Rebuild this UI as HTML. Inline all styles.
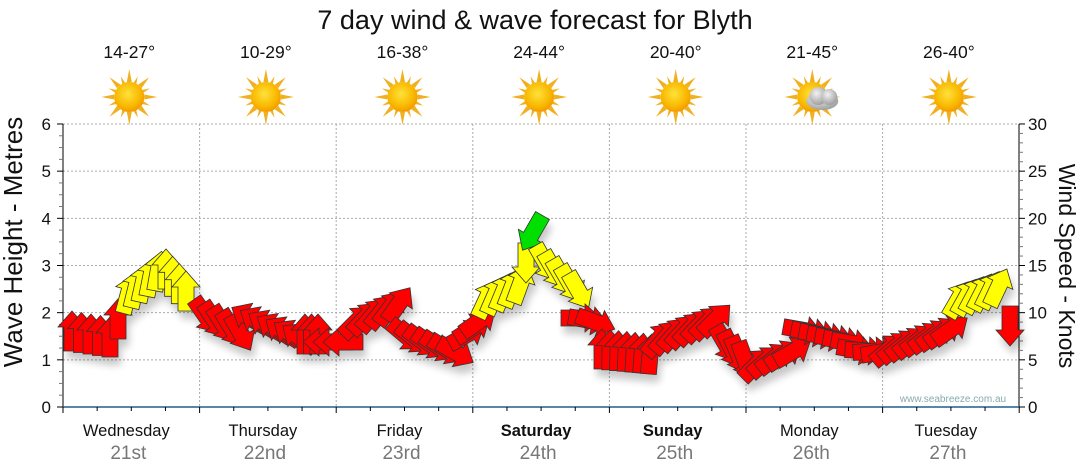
<!DOCTYPE html>
<html><head><meta charset="utf-8"><style>
body{margin:0;background:#fff;width:1080px;height:475px;overflow:hidden}
svg{display:block}
text{font-family:"Liberation Sans",sans-serif}
</style></head><body>
<svg id="s" width="1080" height="475" viewBox="0 0 1080 475" xmlns="http://www.w3.org/2000/svg">
<defs>
<radialGradient id="sun" cx="45%" cy="40%" r="60%"><stop offset="0" stop-color="#ffe23a"/><stop offset="0.7" stop-color="#f9b800"/><stop offset="1" stop-color="#f29a00"/></radialGradient>
<radialGradient id="cl" cx="40%" cy="35%" r="70%"><stop offset="0" stop-color="#f2f2f2"/><stop offset="1" stop-color="#9a9a9a"/></radialGradient>
<filter id="sh" x="-50%" y="-50%" width="200%" height="200%"><feGaussianBlur stdDeviation="4"/></filter>
<g id="ray"><polygon points="0,-28 2.5,-15 -2.5,-15" fill="#f0b020"/></g>
</defs>
<text x="535" y="29" font-size="27" text-anchor="middle" fill="#111">7 day wind &amp; wave forecast for Blyth</text>
<g id="grid" stroke="#aaa" stroke-width="1" stroke-dasharray="2,2" fill="none"></g>
<g id="axes"></g>
<g id="suns"></g>
<g id="shadows" filter="url(#sh)" opacity="0.22"></g>
<g id="arrows" stroke="#333" stroke-width="0.8" stroke-linejoin="miter"></g>
<text x="953" y="402" font-size="10" fill="#8aa" text-anchor="middle">www.seabreeze.com.au</text>
<text transform="translate(22,242) rotate(-90)" font-size="26" text-anchor="middle" fill="#111">Wave Height - Metres</text>
<text transform="translate(1059,266) rotate(90)" font-size="23" text-anchor="middle" fill="#111">Wind Speed - Knots</text>
</svg>
<script>
var NS="http://www.w3.org/2000/svg";
function el(p,t,a,txt){var e=document.createElementNS(NS,t);for(var k in a)e.setAttribute(k,a[k]);if(txt!=null)e.textContent=txt;(typeof p=='string'?document.getElementById(p):p).appendChild(e);return e;}
var X0=63,X1=1019,Y0=407,PX=47.17,DW=136.6;
for(var i=1;i<=6;i++){var y=Y0-i*PX;el('grid','line',{x1:X0,x2:X1,y1:y,y2:y});}
for(var d=1;d<7;d++){var x=X0+d*DW;el('grid','line',{x1:x,x2:x,y1:124,y2:Y0});}
el('axes','line',{x1:X0,x2:X0,y1:124,y2:Y0,stroke:'#000'});
el('axes','line',{x1:X1,x2:X1,y1:124,y2:Y0,stroke:'#000'});
el('axes','line',{x1:X0,x2:X1,y1:Y0,y2:Y0,stroke:'#1f5f8f','stroke-width':1.5});
for(var i=0;i<=24;i++){var y=Y0-i*PX/4;el('axes','line',{x1:i%4?59:57,x2:X0,y1:y,y2:y,stroke:i%4?'#777':'#000'});}
for(var i=0;i<=6;i++)el('axes','text',{x:51,y:Y0-i*PX+6,'font-size':17,'text-anchor':'end',fill:'#111'},i);
for(var i=0;i<=30;i++){var y=Y0-i*PX/5;el('axes','line',{x1:X1,x2:i%5?1023:1025,y1:y,y2:y,stroke:i%5?'#777':'#000'});}
for(var i=0;i<=6;i++)el('axes','text',{x:1028,y:Y0-i*PX+6,'font-size':17,fill:'#111'},i*5);
for(var i=0;i<=28;i++){var x=X0+i*DW/4;el('axes','line',{x1:x,x2:x,y1:Y0,y2:i%4?411:413,stroke:'#000'});}
var days=['Wednesday','Thursday','Friday','Saturday','Sunday','Monday','Tuesday'],dates=['21st','22nd','23rd','24th','25th','26th','27th'],temps=['14-27°','10-29°','16-38°','24-44°','20-40°','21-45°','26-40°'];
for(var d=0;d<7;d++){var cx=X0+DW*(d+.5);
el('axes','text',{x:cx-5,y:436,'font-size':16.5,'text-anchor':'middle',fill:'#111','font-weight':(d==3||d==4)?'bold':'normal'},days[d]);
el('axes','text',{x:cx-3,y:459,'font-size':19,'text-anchor':'middle',fill:'#777'},dates[d]);
el('axes','text',{x:cx-2,y:58,'font-size':17.5,'text-anchor':'middle',fill:'#111'},temps[d]);
var sx=cx-2,sy=97;var gg=el('suns','g',{transform:'translate('+sx+','+sy+')'});
for(var r=0;r<16;r++){var u=el(gg,'use',{href:'#ray',transform:'rotate('+(r*22.5)+') scale('+(r%2?0.8:1)+')'});u.setAttributeNS('http://www.w3.org/1999/xlink','xlink:href','#ray');}
el(gg,'circle',{r:15,fill:'url(#sun)'});
if(d==5){el(gg,'ellipse',{cx:10,cy:4,rx:16,ry:9,fill:'url(#cl)'});el(gg,'circle',{cx:6,cy:-1,r:9,fill:'url(#cl)'});el(gg,'circle',{cx:17,cy:0,r:8,fill:'url(#cl)'});}
}
var R='#ff0000',Y='#ffff00',G='#00e000';
var seg=[
[72,110,332,338,0,0,R,9],[118,118,320,320,0,0,R,5],
[128,158,295,272,15,10,Y,8],[166,186,270,292,0,0,Y,8],
[205,240,315,332,145,150,R,8],[250,300,318,338,-60,-55,R,8],
[305,318,335,335,0,0,R,6],[324,344,342,342,-90,-90,R,10],
[356,398,322,305,45,35,R,8],[405,455,335,352,130,120,R,9],
[466,478,335,322,60,55,R,7],[486,520,300,285,25,20,Y,8],
[526,526,262,262,180,180,Y,5],[533,533,232,232,-150,-150,G,5],
[545,578,262,290,150,150,Y,8],[580,595,318,322,90,110,R,9],
[602,650,350,355,0,5,R,8],[658,715,340,320,40,45,R,8],
[725,745,343,360,150,160,R,8],[756,792,365,352,45,60,R,9],
[802,850,330,343,100,100,R,8],[856,880,350,352,100,80,R,8],
[888,950,350,330,50,55,R,8],[958,998,300,288,30,25,Y,8],
[1010,1010,325,325,180,180,R,5]];
var P="M0,-21 L14,-5 L8,-5 L8,19 L-8,19 L-8,-5 L-14,-5 Z";
seg.forEach(function(q){var n=Math.max(1,Math.round((q[1]-q[0])/q[7]));for(var i=0;i<=n;i++){if(q[1]==q[0]&&i>0)break;var t=n?i/n:0;var x=q[0]+(q[1]-q[0])*t,y=q[2]+(q[3]-q[2])*t,a=q[4]+(q[5]-q[4])*t;
el('shadows','path',{d:P,fill:'#000',transform:'translate('+(x+3)+','+(y+8)+') rotate('+a+')'});
el('arrows','path',{d:P,fill:q[6],transform:'translate('+x+','+y+') rotate('+a+')'});}});
</script>
</body></html>
